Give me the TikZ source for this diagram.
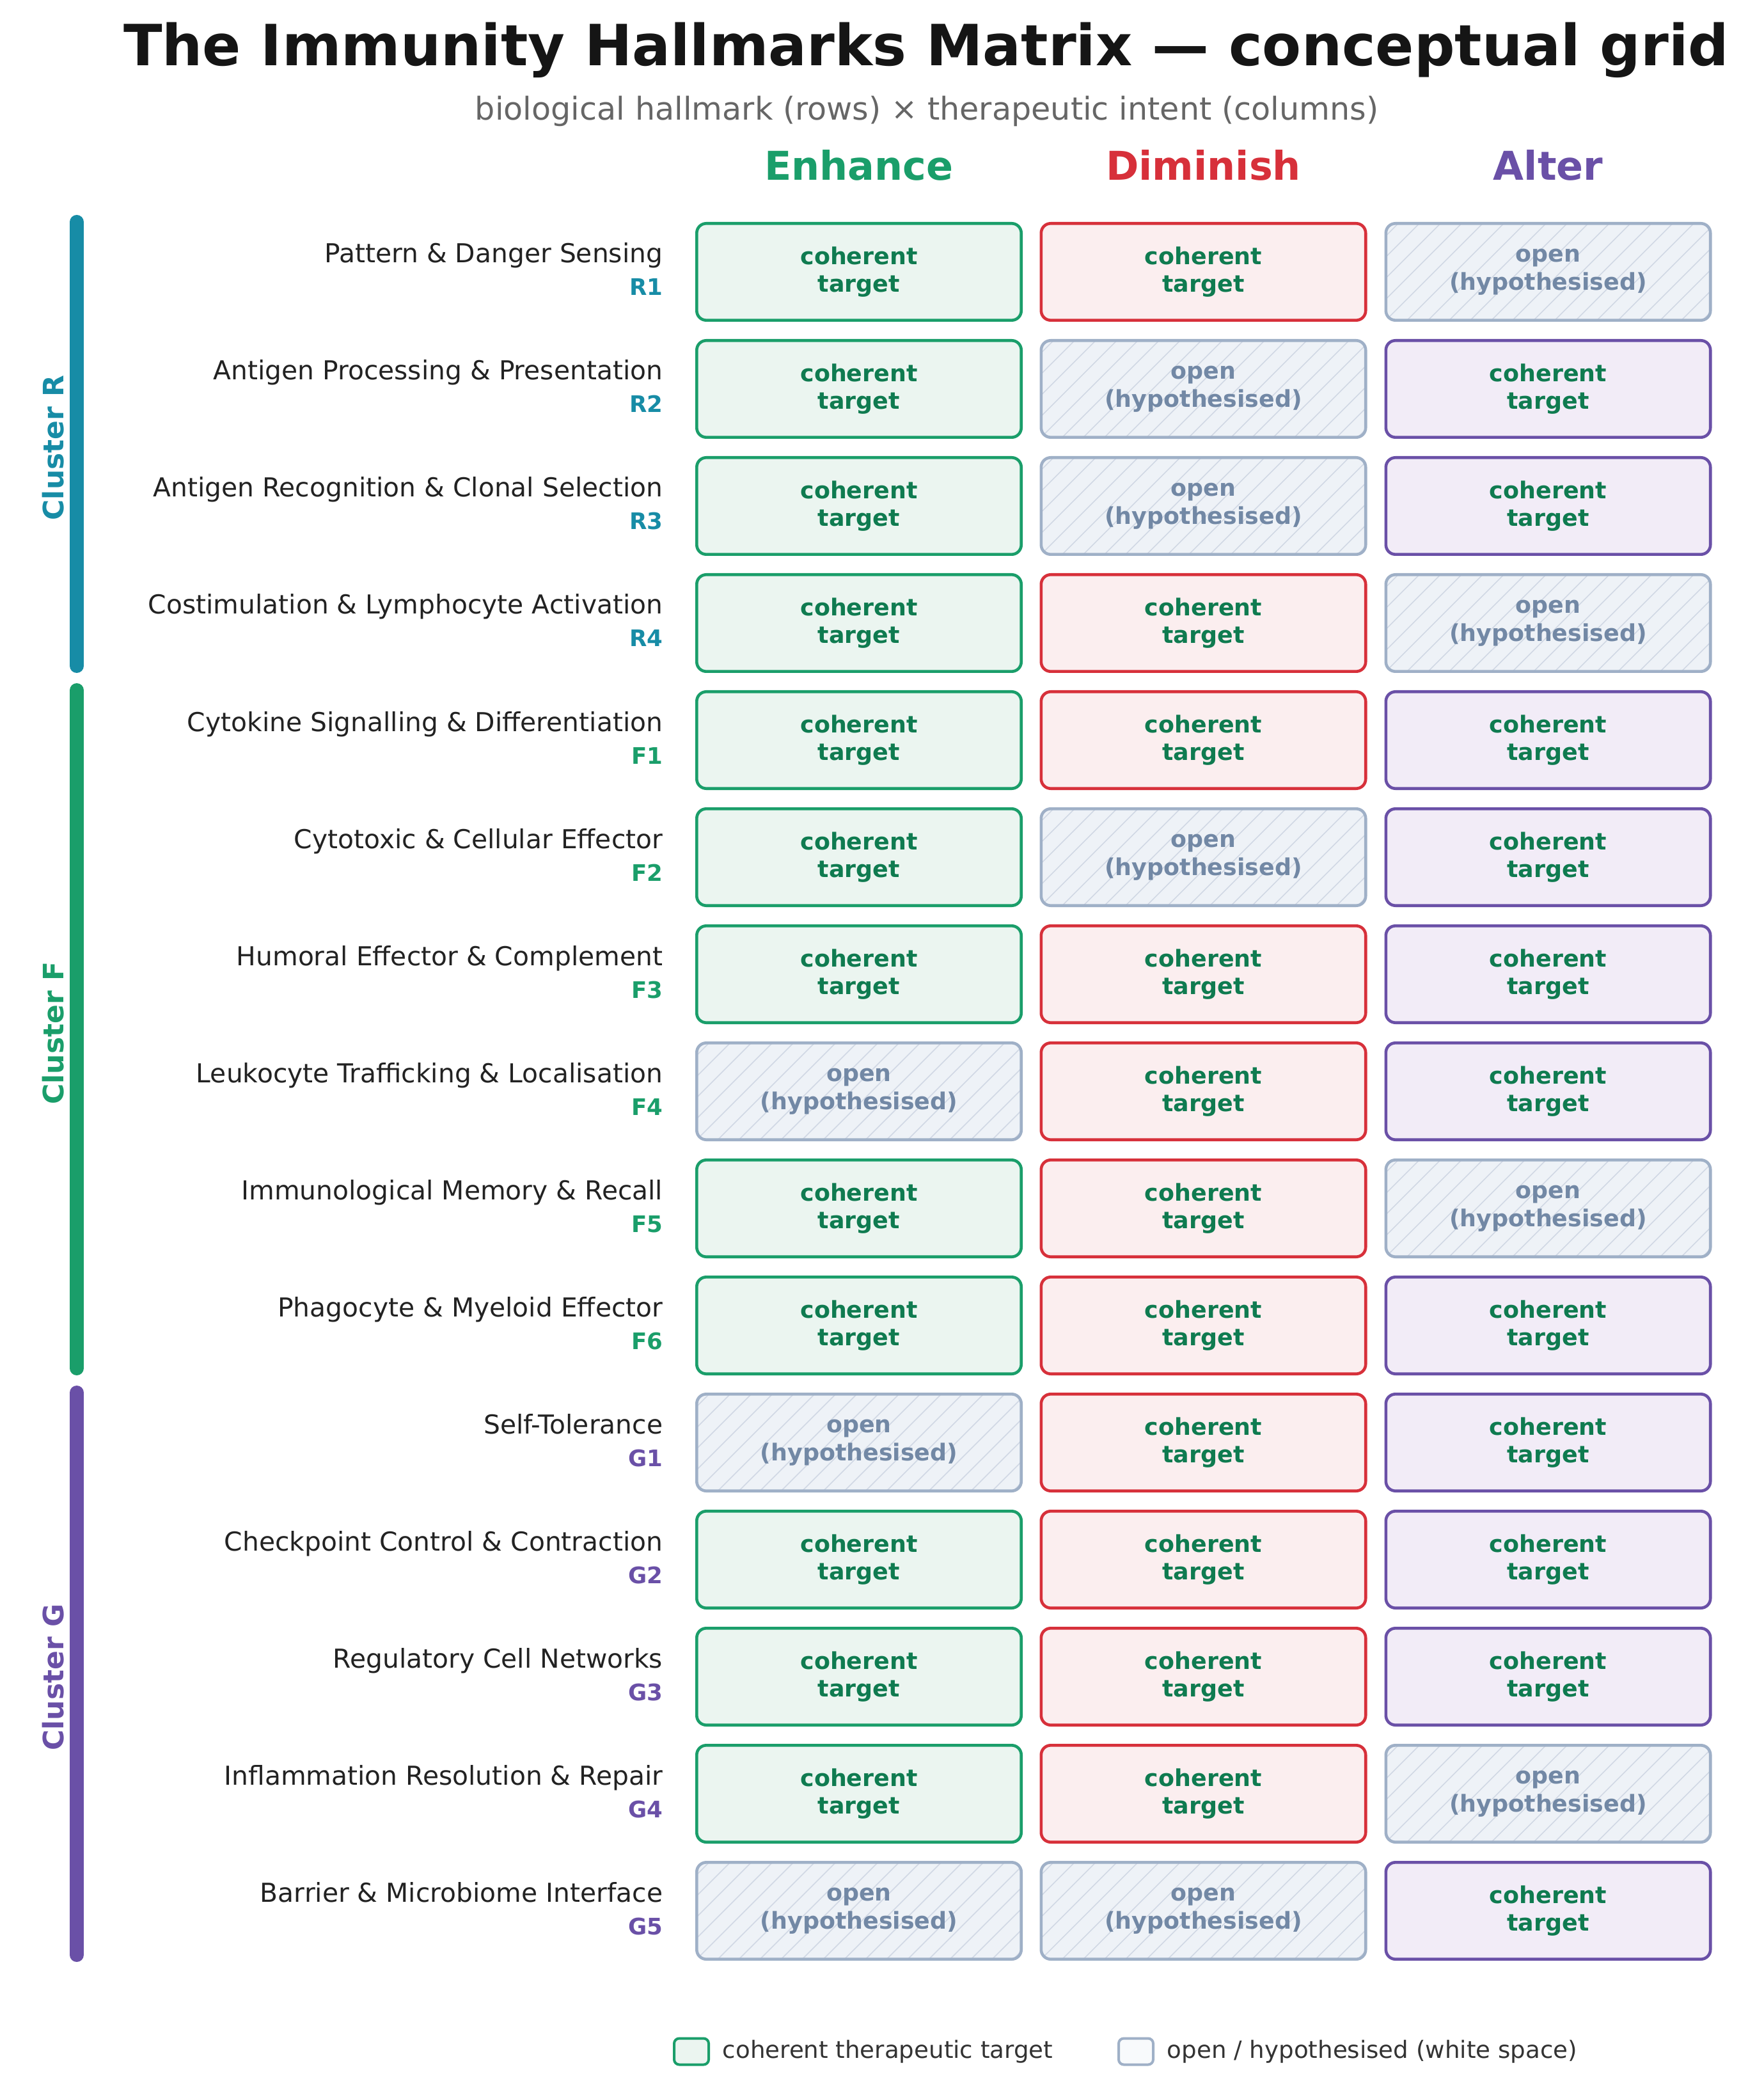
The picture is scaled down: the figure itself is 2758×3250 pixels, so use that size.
\documentclass[tikz,border=0pt]{standalone}
\usepackage{fontspec}
\setmainfont{DejaVu Sans}
\definecolor{egreen}{HTML}{1A9E6A}
\definecolor{efill}{HTML}{EBF5F0}
\definecolor{dred}{HTML}{D7303A}
\definecolor{dfill}{HTML}{FBEEEF}
\definecolor{apurple}{HTML}{6A50A7}
\definecolor{afill}{HTML}{F2ECF7}
\definecolor{openline}{HTML}{9FB0C7}
\definecolor{openfill}{HTML}{EEF2F7}
\definecolor{opentext}{HTML}{7288A5}
\definecolor{hatchc}{HTML}{D0D8E4}
\definecolor{cohtext}{HTML}{0F7B50}
\definecolor{cR}{HTML}{178CA6}
\definecolor{cF}{HTML}{1A9E6A}
\definecolor{cG}{HTML}{6A50A7}
\definecolor{titlec}{HTML}{151515}
\definecolor{subc}{HTML}{666666}
\definecolor{namec}{HTML}{222222}
\definecolor{legc}{HTML}{333333}
\newcommand\txtc{coherent\\target}
\newcommand\txto{open\\(hypothesised)}
\begin{document}
\begin{tikzpicture}[x=0.25pt,y=-0.25pt,
  card/.style={rounded corners=3.75pt, line width=1.15pt, minimum width=126.85pt,
    minimum height=37.85pt, inner sep=0pt, align=center,
    font=\fontsize{9.1}{10.9}\selectfont\bfseries},
  cardc/.style={card, text=cohtext},
  cardo/.style={card, draw=openline, fill=openfill, text=opentext,
    path picture={\foreach \k in {-6,...,17}{\draw[hatchline]
      ([xshift=\k*8.25pt]path picture bounding box.south west) -- ++(45:60pt);}}},
  hatchline/.style={draw=hatchc, line width=0.4pt},
  Ec/.style={draw=egreen, fill=efill}, Eo/.style={},
  Dc/.style={draw=dred, fill=dfill}, Do/.style={},
  Ac/.style={draw=apurple, fill=afill}, Ao/.style={},
  rowname/.style={font=\fontsize{10.2}{12}\selectfont, text=namec, inner sep=0pt},
  rowid/.style={font=\fontsize{8.9}{10}\selectfont\bfseries, inner sep=0pt},
  clbar/.style={line width=5.5pt, line cap=round},
  cllabel/.style={font=\fontsize{11}{13}\selectfont\bfseries, rotate=90, inner sep=0pt},
  header/.style={font=\fontsize{15.5}{18}\selectfont\bfseries, inner sep=0pt},
  legtext/.style={font=\fontsize{9.3}{11}\selectfont, text=legc, inner sep=0pt},
  swatch/.style={line width=1pt, rounded corners=2pt, minimum width=13.5pt,
    minimum height=10.25pt, inner sep=0pt}
]
\useasboundingbox (0,0) rectangle (2758,3250);
\fill[white] (0,0) rectangle (2758,3250);

% title
\node[anchor=base, inner sep=0pt, font=\fontsize{22.2}{26}\selectfont\bfseries, text=titlec]
  (title) at (1448,103) {The Immunity Hallmarks Matrix — conceptual grid};
\node[anchor=base, inner sep=0pt, font=\fontsize{12.3}{15}\selectfont, text=subc]
  (subtitle) at (1449,188) {biological hallmark (rows) × therapeutic intent (columns)};

% headers
\node[header, anchor=base, text=egreen] (hE) at (1343,282) {Enhance};
\node[header, anchor=base, text=dred] (hD) at (1881.5,282) {Diminish};
\node[header, anchor=base, text=apurple] (hA) at (2420.5,282) {Alter};

% cluster bars
\draw[clbar, cR] (120,347) -- (120,1041);
\draw[clbar, cF] (120,1079) -- (120,2139);
\draw[clbar, cG] (120,2177) -- (120,3056);
\node[cllabel, text=cR] (clR) at (83,700) {Cluster R};
\node[cllabel, text=cF] (clF) at (83,1615) {Cluster F};
\node[cllabel, text=cG] (clG) at (83,2622) {Cluster G};

% rows
\foreach \i/\id/\name/\cl/\a/\b/\c in {
  1/R1/Pattern \& Danger Sensing/cR/c/c/o,
  2/R2/Antigen Processing \& Presentation/cR/c/o/c,
  3/R3/Antigen Recognition \& Clonal Selection/cR/c/o/c,
  4/R4/Costimulation \& Lymphocyte Activation/cR/c/c/o,
  5/F1/Cytokine Signalling \& Differentiation/cF/c/c/c,
  6/F2/Cytotoxic \& Cellular Effector/cF/c/o/c,
  7/F3/Humoral Effector \& Complement/cF/c/c/c,
  8/F4/Leukocyte Trafficking \& Localisation/cF/o/c/c,
  9/F5/Immunological Memory \& Recall/cF/c/c/o,
  10/F6/Phagocyte \& Myeloid Effector/cF/c/c/c,
  11/G1/Self-Tolerance/cG/o/c/c,
  12/G2/Checkpoint Control \& Contraction/cG/c/c/c,
  13/G3/Regulatory Cell Networks/cG/c/c/c,
  14/G4/Inflammation Resolution \& Repair/cG/c/c/o,
  15/G5/Barrier \& Microbiome Interface/cG/o/o/c}
{
  \pgfmathsetmacro\yc{425+(\i-1)*183}
  \node[rowname, anchor=base east] (n\id) at (1037,\yc-14) {\name};
  \node[rowid, anchor=base east, text=\cl] (i\id) at (1037,\yc+37) {\id};
  \node[card\a, E\a] (e\id) at (1343,\yc) {\csname txt\a\endcsname};
  \node[card\b, D\b] (d\id) at (1881.5,\yc) {\csname txt\b\endcsname};
  \node[card\c, A\c] (a\id) at (2420.5,\yc) {\csname txt\c\endcsname};
}

% legend
\node[swatch, draw=egreen, fill=efill] (lg1) at (1081,3207) {};
\node[legtext, anchor=base west] (lt1) at (1129,3217) {coherent therapeutic target};
\node[swatch, draw=openline, fill=openfill!40!white] (lg2) at (1776,3207) {};
\node[legtext, anchor=base west] (lt2) at (1824,3217) {open / hypothesised (white space)};
\end{tikzpicture}
\end{document}
